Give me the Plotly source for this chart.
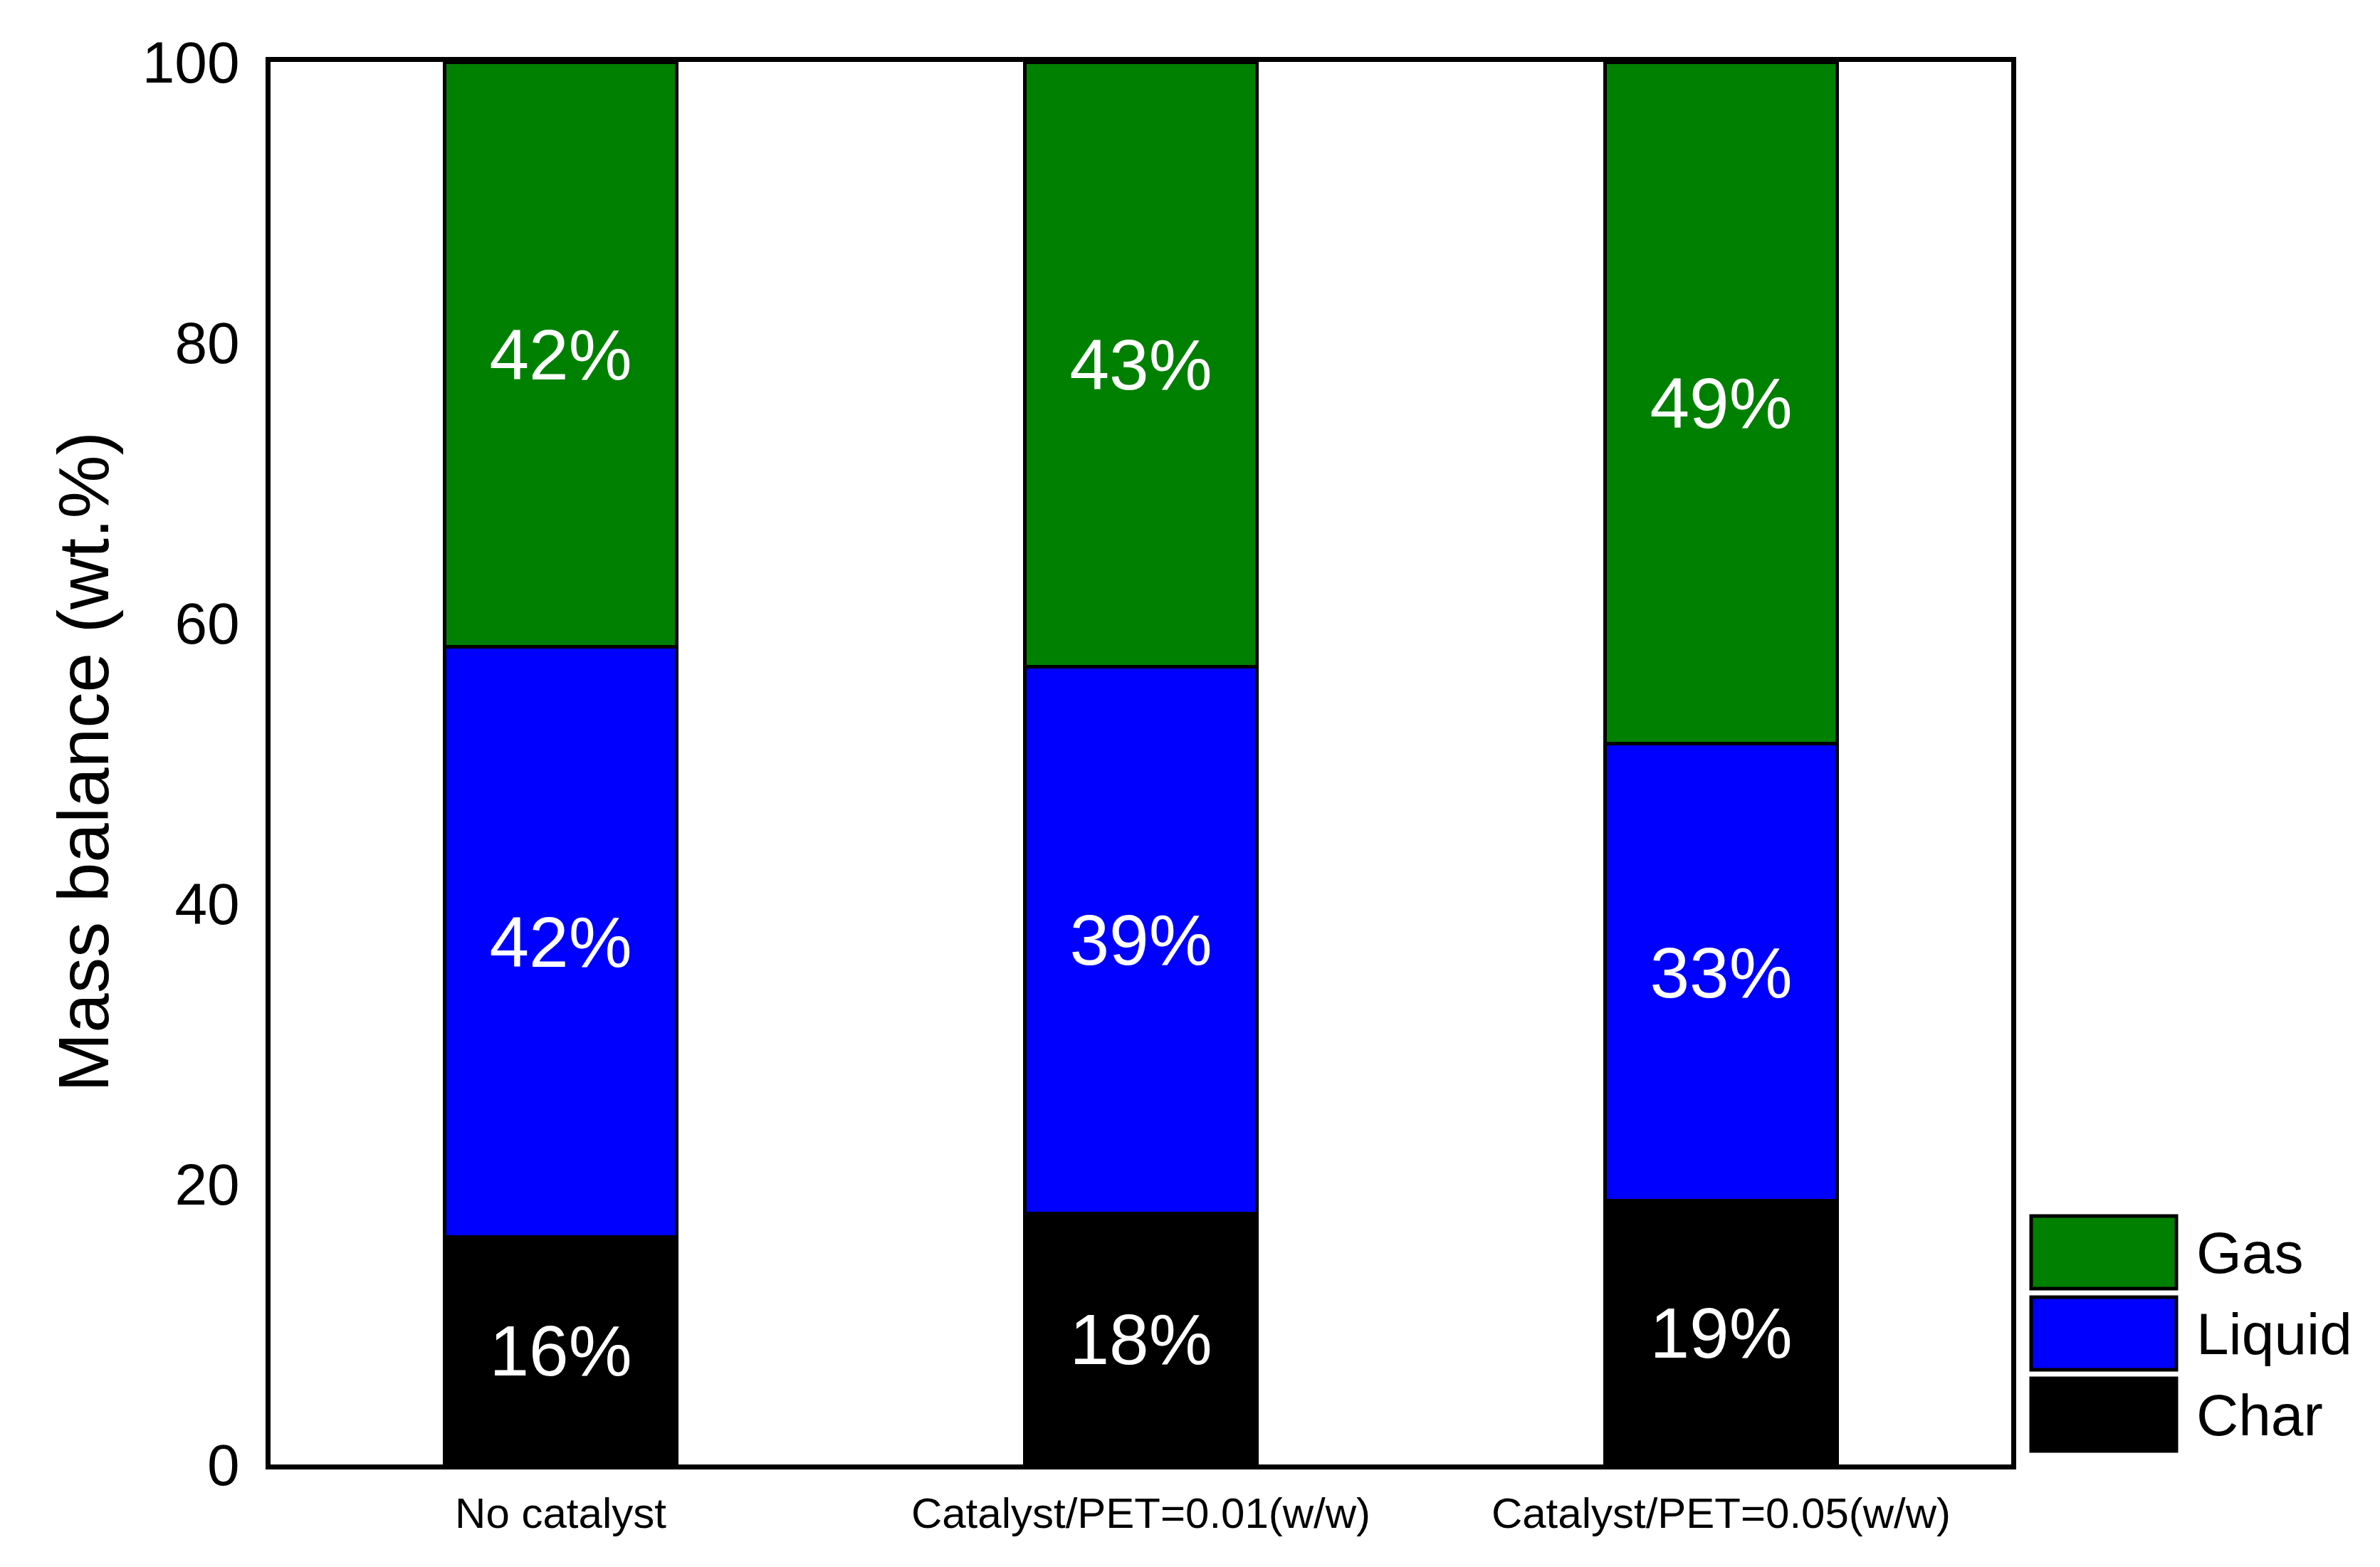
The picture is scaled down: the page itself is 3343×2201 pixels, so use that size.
import plotly.graph_objects as go

categories = ["No catalyst", "Catalyst/PET=0.01(w/w)", "Catalyst/PET=0.05(w/w)"]
char_vals = [16.2, 17.9, 18.8]
liquid_vals = [42.1, 39.0, 32.6]
gas_vals = [41.7, 43.1, 48.6]
series_names = ["Char", "Liquid", "Gas"]
series_colors = ["#000000", "#0000FF", "#008000"]
y_ticks = [0, 20, 40, 60, 80, 100]

FONT = "Arial, Liberation Sans, sans-serif"

fig = go.Figure()
for name, vals, col in zip(series_names, [char_vals, liquid_vals, gas_vals], series_colors):
    fig.add_trace(go.Bar(
        x=categories, y=vals, name=name,
        marker=dict(color=col, line=dict(color="black", width=5)),
        width=0.4,
        texttemplate="%{y:.0f}%",
        textposition="inside",
        insidetextanchor="middle",
        textangle=0,
        insidetextfont=dict(color="white", size=100, family=FONT),
        showlegend=False,
    ))

W, H = 3343, 2201
OFF = 8  # page body margin
ml, mr, mt, mb = 372, 526, 79, 152
pw = W - ml - mr
ph = H - mt - mb


def px_x(p):
    return (p - OFF - ml) / pw


def px_y(p):
    return (OFF + H - mb - p) / ph


fig.update_layout(
    width=W, height=H,
    margin=dict(l=ml, r=mr, t=mt, b=mb, pad=0),
    barmode="stack",
    plot_bgcolor="white", paper_bgcolor="white",
    font=dict(family=FONT, color="black"),
)
fig.update_xaxes(
    type="category", range=[-0.5, 2.5],
    showline=True, linecolor="black", linewidth=7, mirror=True,
    ticks="", showgrid=False, zeroline=False,
    tickfont=dict(size=60, family=FONT, color="black"),
    ticklabelstandoff=10,
)
fig.update_yaxes(
    range=[0, 100], tickvals=y_ticks,
    showline=True, linecolor="black", linewidth=7, mirror=True,
    ticks="", showgrid=False, zeroline=False,
    tickfont=dict(size=82, family=FONT, color="black"),
    ticklabelstandoff=20,
)

# y-axis title
fig.add_annotation(
    text="Mass balance (wt.%)", xref="paper", yref="paper",
    x=px_x(117), y=px_y(1070), xanchor="center", yanchor="middle",
    textangle=-90, showarrow=False,
    font=dict(size=100, family=FONT, color="black"),
)

# custom legend with large swatches (Gas, Liquid, Char from top)
legend_order = [2, 1, 0]
top_px = 1708
box_h = 102
step = 114
for i, idx in enumerate(legend_order):
    y_top = top_px + i * step
    y_bot = y_top + box_h
    fig.add_shape(
        type="rect", xref="paper", yref="paper",
        x0=px_x(2853), x1=px_x(3057),
        y0=px_y(y_bot), y1=px_y(y_top),
        fillcolor=series_colors[idx], line=dict(color="black", width=5),
    )
    fig.add_annotation(
        text=series_names[idx], xref="paper", yref="paper",
        x=px_x(3083), y=px_y(y_top + box_h / 2),
        xanchor="left", yanchor="middle", showarrow=False,
        font=dict(size=82, family=FONT, color="black"),
    )

fig.write_html("out.html")
